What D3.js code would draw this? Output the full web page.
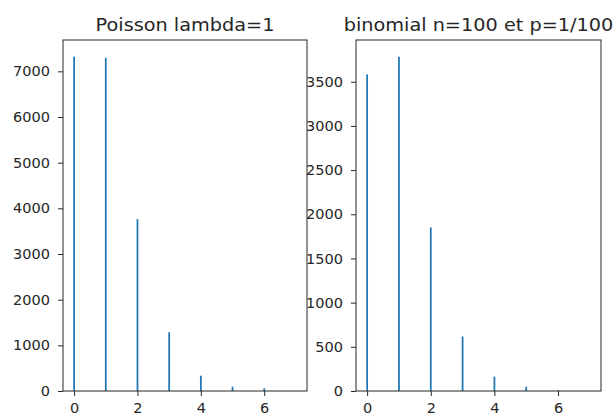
<!DOCTYPE html>
<html lang="en">
<head>
<meta charset="UTF-8">
<title>Poisson vs binomial</title>
<script src="https://cdn.jsdelivr.net/npm/d3@7"></script>
<style>
  body { margin: 0; background: white; }
  svg text { font-family: "DejaVu Sans", sans-serif; fill: #262626; }
</style>
</head>
<body>
<div id="chart"></div>
<script>
// counts per integer value
const values = [0, 1, 2, 3, 4, 5, 6, 7];
const poissonCounts = [7320, 7295, 3765, 1287, 335, 94, 59, 4];
const binomialCounts = [3583, 3783, 1851, 616, 162, 49, 6, 1];
const xTicks = [0, 2, 4, 6];
const poissonTicks = [0, 1000, 2000, 3000, 4000, 5000, 6000, 7000];
const binomialTicks = [0, 500, 1000, 1500, 2000, 2500, 3000, 3500];

const w = 613, h = 414;
const plotTop = 40, plotBottom = 391;
const binWidth = 0.055;

const svg = d3.select('#chart').append('svg')
    .attr('width', w)
    .attr('height', h);

function panel(left, right, counts, yTicks, title) {
    const x = d3.scaleLinear().domain([-0.35, 7.35]).range([left, right]);
    const ymax = d3.max(counts) * 1.05;
    const y = d3.scaleLinear().domain([0, ymax]).range([plotBottom, plotTop]);

    const g = svg.append('g');

    g.selectAll('rect')
        .data(values)
        .enter()
        .append('rect')
        .attr('x', d => x(d - binWidth / 2))
        .attr('width', x(binWidth) - x(0))
        .attr('y', (d, i) => y(counts[i]))
        .attr('height', (d, i) => y(0) - y(counts[i]))
        .attr('fill', '#1f77b4');

    const yAxis = d3.axisLeft(y).tickValues(yTicks).tickFormat(d3.format('d'))
        .tickSize(5).tickPadding(8);
    g.append('g')
        .attr('transform', `translate(${left}, 0)`)
        .call(yAxis)
        .call(a => a.select('.domain').remove())
        .call(a => a.selectAll('text').style('font-size', '14.5px'))
        .call(a => a.selectAll('line').attr('stroke', '#262626'));

    const xAxis = d3.axisBottom(x).tickValues(xTicks).tickFormat(d3.format('d'))
        .tickSize(5).tickPadding(7);
    g.append('g')
        .attr('transform', `translate(0, ${plotBottom})`)
        .call(xAxis)
        .call(a => a.select('.domain').remove())
        .call(a => a.selectAll('text').style('font-size', '14.5px'))
        .call(a => a.selectAll('line').attr('stroke', '#262626'));

    // axes frame
    g.append('rect')
        .attr('x', left)
        .attr('y', plotTop)
        .attr('width', right - left)
        .attr('height', plotBottom - plotTop)
        .attr('fill', 'none')
        .attr('stroke', '#262626')
        .attr('stroke-width', 1);

    const t = g.append('text')
        .text(title)
        .attr('x', (left + right) / 2)
        .attr('y', 31)
        .attr('text-anchor', 'middle')
        .style('font-size', '18px');
    // the source image is a little wider than tall, stretch the title to match
    const len = t.node().getComputedTextLength();
    t.attr('textLength', len * 1.07).attr('lengthAdjust', 'spacingAndGlyphs');
}

panel(63, 307, poissonCounts, poissonTicks, 'Poisson lambda=1');
panel(356, 601, binomialCounts, binomialTicks, 'binomial n=100 et p=1/100');
</script>
</body>
</html>
